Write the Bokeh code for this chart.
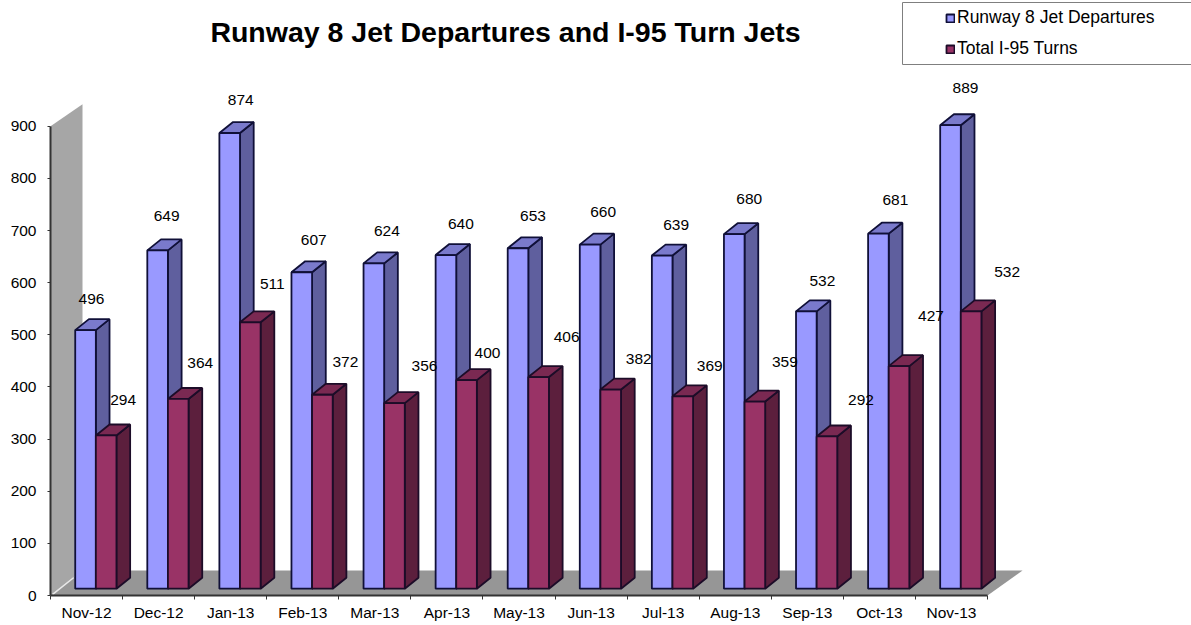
from bokeh.plotting import figure
from bokeh.models import (ColumnDataSource, FixedTicker, LinearAxis, Legend, LegendItem,
                          BoxAnnotation, Range1d, Label)
from bokeh.core.properties import value
from bokeh.embed import file_html
from bokeh.resources import INLINE

months = ["Nov-12","Dec-12","Jan-13","Feb-13","Mar-13","Apr-13","May-13","Jun-13","Jul-13","Aug-13","Sep-13","Oct-13","Nov-13"]
departures = [496,649,874,607,624,640,653,660,639,680,532,681,889]
turns = [294,364,511,372,356,400,406,382,369,359,292,427,532]
y_ticks = [0,100,200,300,400,500,600,700,800,900]
title_text = "Runway 8 Jet Departures and I-95 Turn Jets"

# hand-placed label offsets in the original, in screen pixels
dep_dx = [6,9,11,12,13,15,15,13,14,15,16,17,15]
dep_dy = [-31,-34,-33,-32,-32,-31,-32,-33,-31,-35,-30,-34,-37]
turn_dx = [17,22,22,23,30,21,28,28,27,30,34,32,36]
turn_dy = [-35,-36,-38,-33,-37,-27,-40,-31,-30,-40,-36,-50,-39]

FONT = "Liberation Sans"
BASE = 13      # floor lift of the bars in the 3-D view, value units
DEPTH_X = 0.19
DEPTH_Y = 21
X0, X1, X2 = 0.343, 0.629, 0.915
WALL = 32/72.08
FLOOR_DX = 35/72.08
FLOOR_DY = 25/0.5214
BLUE_EDGE = "#101038"
RED_EDGE = "#1c0c28"

SCALE = 0.5214
PX_PER_CAT = 72.08
ZERO, LEFT = 595, 50

p = figure(width=1191, height=625, output_backend="svg", toolbar_location=None,
           x_range=Range1d(0, (1191-LEFT)/PX_PER_CAT), y_range=Range1d(0, ZERO/SCALE),
           min_border_left=LEFT, min_border_right=0, min_border_top=0, min_border_bottom=625-ZERO,
           outline_line_color=None, background_fill_color="white", border_fill_color="white")
p.grid.visible = False
p.xaxis.visible = False
p.yaxis.visible = False

p.add_layout(Label(x=505, y=31, x_units="canvas", y_units="canvas", text=title_text,
                   text_font=FONT, text_font_size="28.5px", text_font_style="bold",
                   text_color="#000000", text_align="center", text_baseline="middle"))

# wall + floor
wall_top = y_ticks[-1]
n = len(months)
p.patch([0, WALL, WALL, 0], [0, FLOOR_DY, wall_top + 22/SCALE*1.0, wall_top],
        fill_color="#a6a6a6", line_color=None)
p.patch([0, n, n + FLOOR_DX, WALL], [0, 0, FLOOR_DY, FLOOR_DY],
        fill_color="#969696", line_color=None)
p.line([0.03, 0.32], [2, 34], line_color="#e8e8e8", line_width=1.5)


def draw(values, x0, x1, front, top, side, edge):
    lefts = [i + x0 for i in range(n)]
    rights = [i + x1 for i in range(n)]
    ups = [v + BASE for v in values]
    p.patches([[r, r + DEPTH_X, r + DEPTH_X, r] for r in rights],
              [[BASE, BASE + DEPTH_Y, u + DEPTH_Y, u] for u in ups],
              fill_color=side, line_color=edge, line_width=1.8)
    p.patches([[l, r, r + DEPTH_X, l + DEPTH_X] for l, r in zip(lefts, rights)],
              [[u, u, u + DEPTH_Y, u + DEPTH_Y] for u in ups],
              fill_color=top, line_color=edge, line_width=1.8)
    return p.quad(left=lefts, right=rights, bottom=[BASE]*n, top=ups,
                  fill_color=front, line_color=edge, line_width=1.8)


r1 = draw(departures, X0, X1, "#9999ff", "#7a7acc", "#5f5f9e", BLUE_EDGE)
r2 = draw(turns, X1, X2, "#993366", "#7a2952", "#5c1f3d", RED_EDGE)


def labels(values, x, dx, dy):
    src = ColumnDataSource(dict(x=[i + x for i in range(n)], y=[v + BASE for v in values],
                                t=[str(v) for v in values], dx=dx, dy=dy))
    p.text("x", "y", text="t", x_offset="dx", y_offset="dy", source=src,
           text_font=value(FONT), text_font_size="15.5px", text_color="#000000",
           text_align="center", text_baseline="middle")


labels(departures, (X0 + X1)/2, dep_dx, dep_dy)
labels(turns, (X1 + X2)/2, turn_dx, turn_dy)

# axes
yax = LinearAxis(ticker=FixedTicker(ticks=y_ticks), bounds=(0, 900))
yax.axis_line_color = "#333333"
yax.axis_line_width = 2
yax.major_tick_line_color = "#333333"
yax.major_tick_in = 0
yax.major_tick_out = 3
yax.minor_tick_line_color = None
yax.major_label_text_font = FONT
yax.major_label_text_font_size = "15.5px"
yax.major_label_text_color = "#000000"
yax.major_label_standoff = 11
p.add_layout(yax, "left")

xax = LinearAxis(ticker=FixedTicker(ticks=list(range(n + 1))), bounds=(0, n))
xax.axis_line_color = "#333333"
xax.axis_line_width = 2
xax.major_tick_line_color = "#333333"
xax.major_tick_in = 0
xax.major_tick_out = 4
xax.minor_tick_line_color = None
xax.major_label_text_font_size = "0px"
xax.major_label_text_color = None
xax.major_label_standoff = 0
p.add_layout(xax, "below")

# category labels sit between the ticks
xlab = LinearAxis(ticker=FixedTicker(ticks=[i + 0.5 for i in range(n)]),
                  major_label_overrides={i + 0.5: m for i, m in enumerate(months)})
xlab.axis_line_color = None
xlab.major_tick_line_color = None
xlab.minor_tick_line_color = None
xlab.major_tick_in = 0
xlab.major_tick_out = 0
xlab.major_label_text_font = FONT
xlab.major_label_text_font_size = "15.5px"
xlab.major_label_text_color = "#000000"
xlab.major_label_standoff = 4
p.add_layout(xlab, "below")

# legend box runs off the right side of the picture
p.add_layout(BoxAnnotation(left=902, right=1200, top=2, bottom=64,
                           left_units="canvas", right_units="canvas", top_units="canvas", bottom_units="canvas",
                           fill_alpha=0, line_color="#7f7f7f", line_alpha=1, line_width=1))
legend = Legend(items=[LegendItem(label="Runway 8 Jet Departures", renderers=[r1]),
                       LegendItem(label="Total I-95 Turns", renderers=[r2])],
                location=(895, 536), orientation="vertical", spacing=10, padding=0, margin=0,
                glyph_width=10, glyph_height=10, label_standoff=2,
                label_text_font=FONT, label_text_font_size="17.5px", label_text_color="#000000",
                background_fill_alpha=0, border_line_color=None)
p.add_layout(legend, "center")

open("out.html", "w").write(file_html(p, INLINE))
